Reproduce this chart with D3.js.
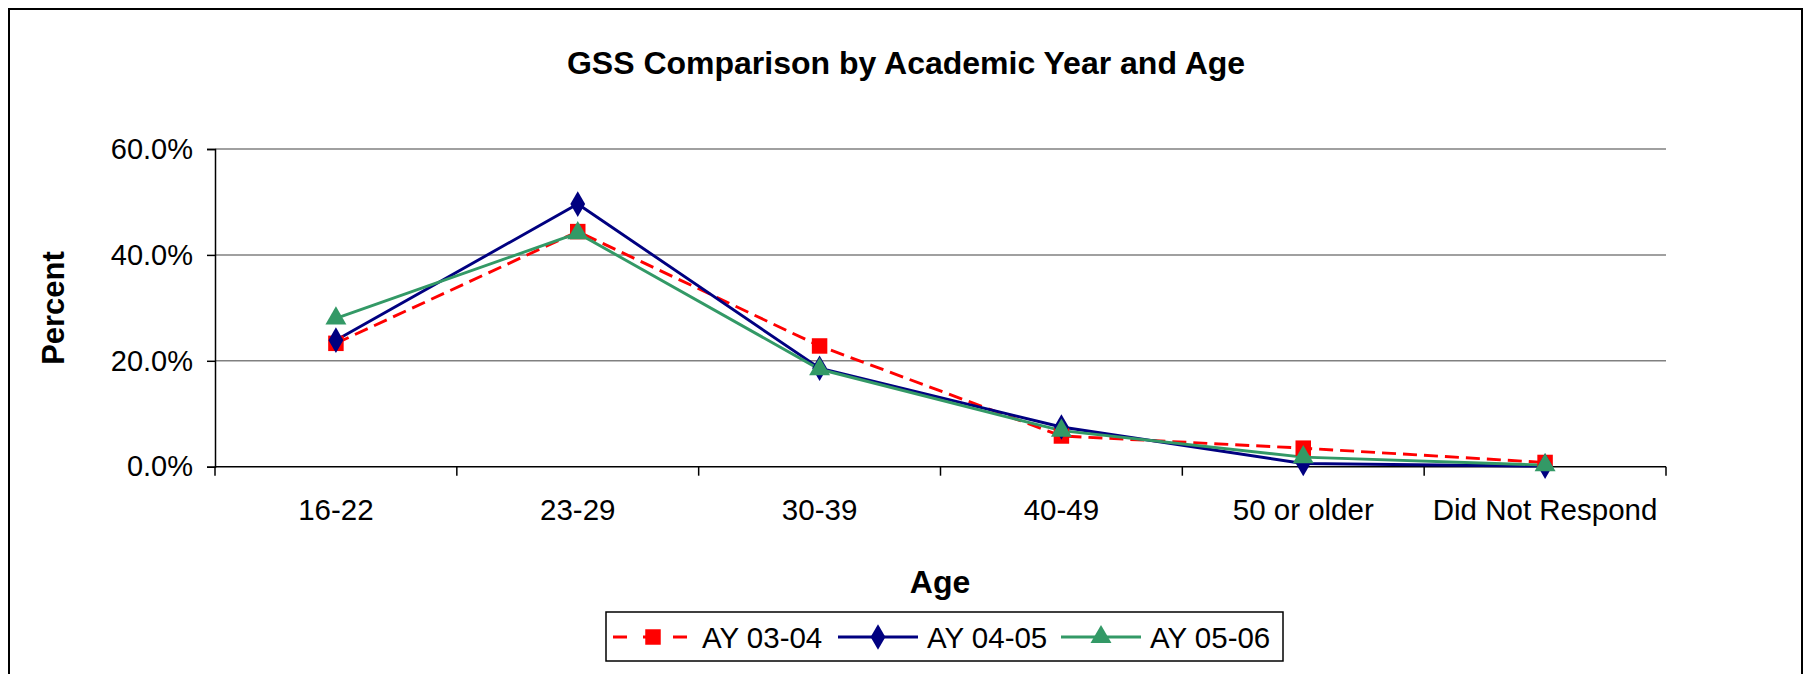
<!DOCTYPE html>
<meta charset="utf-8" />
<script src="https://d3js.org/d3.v7.min.js"></script>
<style>
  body { margin: 0; background: #fff; }
  text { font-family: "Liberation Sans", Arial, sans-serif; }
</style>
<div id="chart"></div>
<script>
  // data
  var ages = ["16-22", "23-29", "30-39", "40-49", "50 or older", "Did Not Respond"];
  var ay0304 = [0.233, 0.444, 0.228, 0.058, 0.035, 0.008];
  var ay0405 = [0.239, 0.496, 0.186, 0.075, 0.006, 0.001];
  var ay0506 = [0.280, 0.441, 0.184, 0.068, 0.018, 0.003];
  var seriesNames = ["AY 03-04", "AY 04-05", "AY 05-06"];
  var yTicks = [0, 0.2, 0.4, 0.6];

  var W = 1804, H = 674;
  var svg = d3.select("#chart").append("svg").attr("width", W).attr("height", H);

  // outer chart border (bottom edge runs off the picture)
  svg.append("rect").attr("x", 9).attr("y", 9).attr("width", 1793).attr("height", 700)
    .attr("fill", "none").attr("stroke", "#000").attr("stroke-width", 2);

  var x = d3.scaleBand().domain(ages).range([215, 1666]);
  var y = d3.scaleLinear().domain([0, 0.6]).range([466.7, 149]);

  // gridlines
  svg.append("g").selectAll("line").data(yTicks.slice(1)).enter().append("line")
    .attr("x1", 215).attr("x2", 1666)
    .attr("y1", function (d) { return y(d); }).attr("y2", function (d) { return y(d); })
    .attr("stroke", "#808080").attr("stroke-width", 1.5);

  // y axis
  var yAxis = svg.append("g").attr("transform", "translate(215,0)")
    .call(d3.axisLeft(y).tickValues(yTicks).tickFormat(d3.format(".1%")).tickSize(8).tickPadding(14));
  yAxis.select(".domain").attr("stroke", "#000").attr("stroke-width", 1.5);
  yAxis.selectAll(".tick line").attr("stroke", "#000").attr("stroke-width", 1.5);
  yAxis.selectAll(".tick text").attr("font-size", 29).attr("fill", "#000")
    .attr("font-family", "Liberation Sans, Arial, sans-serif");

  // x axis, ticks at the band edges
  var xAxis = svg.append("g").attr("transform", "translate(0," + y(0) + ")");
  xAxis.append("line").attr("x1", 215).attr("x2", 1666).attr("stroke", "#000").attr("stroke-width", 1.5);
  var edges = ages.map(function (d) { return x(d); }).concat([1666]);
  xAxis.selectAll(".edge").data(edges).enter().append("line")
    .attr("x1", function (d) { return d; }).attr("x2", function (d) { return d; })
    .attr("y1", 0).attr("y2", 9).attr("stroke", "#000").attr("stroke-width", 1.5);
  xAxis.selectAll(".lbl").data(ages).enter().append("text")
    .attr("x", function (d) { return x(d) + x.bandwidth() / 2; })
    .attr("y", 53).attr("text-anchor", "middle").attr("font-size", 29.5)
    .text(function (d) { return d; });

  // titles
  svg.append("text").attr("x", 906).attr("y", 74).attr("text-anchor", "middle")
    .attr("font-size", 32).attr("font-weight", "bold").text("GSS Comparison by Academic Year and Age");
  svg.append("text").attr("x", 940).attr("y", 593).attr("text-anchor", "middle")
    .attr("font-size", 32).attr("font-weight", "bold").text("Age");
  svg.append("text").attr("transform", "translate(64,308) rotate(-90)").attr("text-anchor", "middle")
    .attr("font-size", 31).attr("font-weight", "bold").text("Percent");

  var series = [
    { name: seriesNames[0], values: ay0304, color: "#FF0000", dash: "14,7", shape: d3.symbolSquare, size: 240 },
    { name: seriesNames[1], values: ay0405, color: "#000080", dash: null, shape: d3.symbolDiamond, size: 190 },
    { name: seriesNames[2], values: ay0506, color: "#339966", dash: null, shape: d3.symbolTriangle, size: 190 }
  ];

  var line = d3.line()
    .x(function (d, i) { return x(ages[i]) + x.bandwidth() / 2; })
    .y(function (d) { return y(d); });

  series.forEach(function (s) {
    svg.append("path").datum(s.values).attr("d", line)
      .attr("fill", "none").attr("stroke", s.color).attr("stroke-width", 2.9)
      .attr("stroke-dasharray", s.dash);
  });
  series.forEach(function (s) {
    svg.append("g").selectAll("path").data(s.values).enter().append("path")
      .attr("d", d3.symbol().type(s.shape).size(s.size))
      .attr("transform", function (d, i) {
        return "translate(" + (x(ages[i]) + x.bandwidth() / 2) + "," + y(d) + ")";
      })
      .attr("fill", s.color);
  });

  // legend
  var leg = svg.append("g");
  leg.append("rect").attr("x", 606).attr("y", 612).attr("width", 677).attr("height", 49)
    .attr("fill", "#fff").attr("stroke", "#000").attr("stroke-width", 1.5);
  var legX = [613, 838, 1061];
  series.forEach(function (s, i) {
    var g = leg.append("g").attr("transform", "translate(" + legX[i] + ",637)");
    g.append("line").attr("x1", 0).attr("x2", 80).attr("stroke", s.color).attr("stroke-width", 2.9)
      .attr("stroke-dasharray", s.dash ? "14,16" : null);
    g.append("path").attr("d", d3.symbol().type(s.shape).size(s.size)).attr("transform", "translate(40,0)")
      .attr("fill", s.color);
    g.append("text").attr("x", 89).attr("y", 10.5).attr("font-size", 29.5).text(s.name);
  });
</script>
